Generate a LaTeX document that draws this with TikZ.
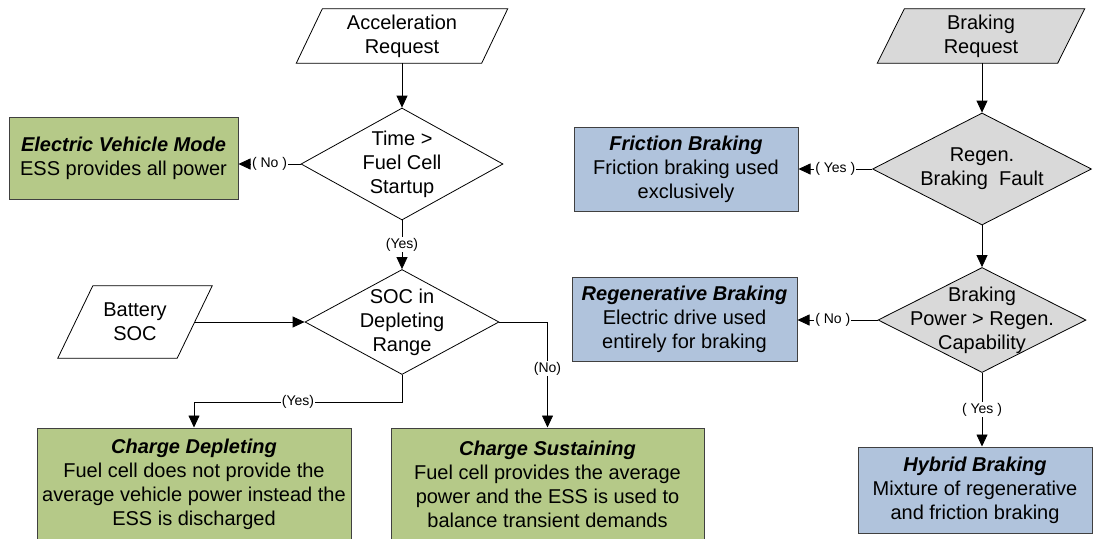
\documentclass[tikz,border=0pt]{standalone}
\usepackage{fontspec}
\setmainfont{Liberation Sans}
\usetikzlibrary{shapes.geometric,arrows.meta,backgrounds}
\definecolor{boxgreen}{HTML}{B5C988}
\definecolor{boxblue}{HTML}{B0C3DC}
\definecolor{boxgray}{HTML}{D9D9D9}
\definecolor{boxedge}{HTML}{404040}
\begin{document}
\begin{tikzpicture}[x=1pt,y=-1pt,
  every node/.style={font=\fontsize{20}{24}\selectfont, text=black},
  box/.style={rectangle, draw=boxedge, line width=1pt, align=center, inner sep=0pt},
  gbox/.style={box, fill=boxgreen},
  bbox/.style={box, fill=boxblue},
  dia/.style={diamond, draw=black, line width=0.8pt, inner sep=0pt},
  dtext/.style={align=center, inner sep=0pt},
  para/.style={rectangle, align=center, inner sep=0pt},
  pshape/.style={draw=black, line width=0.8pt},
  arr/.style={draw=black, line width=0.8pt, -{Triangle[length=12pt,width=11pt]}},
  lab/.style={font=\fontsize{14}{16}\selectfont, fill=white, inner sep=1pt},
]
\useasboundingbox (0,0) rectangle (1094,538);

% ---------- acceleration side ----------
\node[para, minimum width=185, minimum height=54] (acc) at (402,36) {Acceleration\\Request};
\node[dia, minimum width=202, minimum height=112,
      label={[dtext]center:Time >\\Fuel Cell\\Startup}] (d1) at (402,164) {};
\node[gbox, minimum width=229, minimum height=82] (ev) at (123.5,158)
  {\textbf{\textit{Electric Vehicle Mode}}\\ESS provides all power};
\node[para, minimum width=119, minimum height=72] (bat) at (135,322) {Battery\\SOC};
\node[dia, minimum width=194, minimum height=105,
      label={[dtext]center:SOC in\\Depleting\\Range}] (soc) at (402,322) {};
\node[gbox, minimum width=314, minimum height=112] (cd) at (194,484)
  {\textbf{\textit{Charge Depleting}}\\Fuel cell does not provide the\\average vehicle power instead the\\ESS is discharged};
\node[gbox, minimum width=313, minimum height=112] (cs) at (547.5,484)
  {\textbf{\textit{Charge Sustaining}}\\Fuel cell provides the average\\power and the ESS is used to\\balance transient demands};

% ---------- braking side ----------
\node[para, minimum width=180, minimum height=54] (brq) at (981,36) {Braking\\Request};
\node[dia, fill=boxgray, minimum width=219, minimum height=112,
      label={[dtext]center:Regen.\\Braking\ \ Fault}] (rd1) at (982,169) {};
\node[bbox, minimum width=224, minimum height=84] (fb) at (686,169)
  {\textbf{\textit{Friction Braking}}\\Friction braking used\\exclusively};
\node[dia, fill=boxgray, minimum width=208, minimum height=105,
      label={[dtext]center:Braking\\Power > Regen.\\Capability}] (rd2) at (982,320) {};
\node[bbox, minimum width=225, minimum height=84] (rb) at (684.5,319)
  {\textbf{\textit{Regenerative Braking}}\\Electric drive used\\entirely for braking};
\node[bbox, minimum width=234, minimum height=86] (hb) at (975,490)
  {\textbf{\textit{Hybrid Braking}}\\Mixture of regenerative\\and friction braking};

% ---------- parallelogram outlines ----------
\begin{scope}[on background layer]
\draw[pshape, fill=white] ([xshift=-13pt]acc.south west) -- ([xshift=13pt]acc.north west)
  -- ([xshift=13pt]acc.north east) -- ([xshift=-13pt]acc.south east) -- cycle;
\draw[pshape, fill=boxgray] ([xshift=-13.5pt]brq.south west) -- ([xshift=13.5pt]brq.north west)
  -- ([xshift=13.5pt]brq.north east) -- ([xshift=-13.5pt]brq.south east) -- cycle;
\draw[pshape, fill=white] ([xshift=-17.5pt]bat.south west) -- ([xshift=17.5pt]bat.north west)
  -- ([xshift=17.5pt]bat.north east) -- ([xshift=-17.5pt]bat.south east) -- cycle;
\end{scope}

% ---------- connectors ----------
\draw[arr] (acc.south) -- (d1.north);
\draw[arr] (d1.west) -- node[lab]{( No )} (d1.west -| ev.east);
\draw[arr] (d1.south) -- node[lab]{(Yes)} (soc.north);
\draw[arr] (bat.east) -- (soc.west);
\draw[arr] (soc.south) -- ++(0,27) -| node[lab, pos=0.25]{(Yes)} (cd.north);
\draw[arr] (soc.east) -| node[lab, pos=0.72]{(No)} (cs.north);

\draw[arr] (brq.south -| rd1.north) -- (rd1.north);
\draw[arr] (rd1.west) -- node[lab]{( Yes )} (rd1.west -| fb.east);
\draw[arr] (rd1.south) -- (rd2.north);
\draw[arr] (rd2.west) -- node[lab, pos=0.56]{( No )} (rd2.west -| rb.east);
\draw[arr] (rd2.south) -- node[lab]{( Yes )} (rd2.south |- hb.north);
\end{tikzpicture}
\end{document}
